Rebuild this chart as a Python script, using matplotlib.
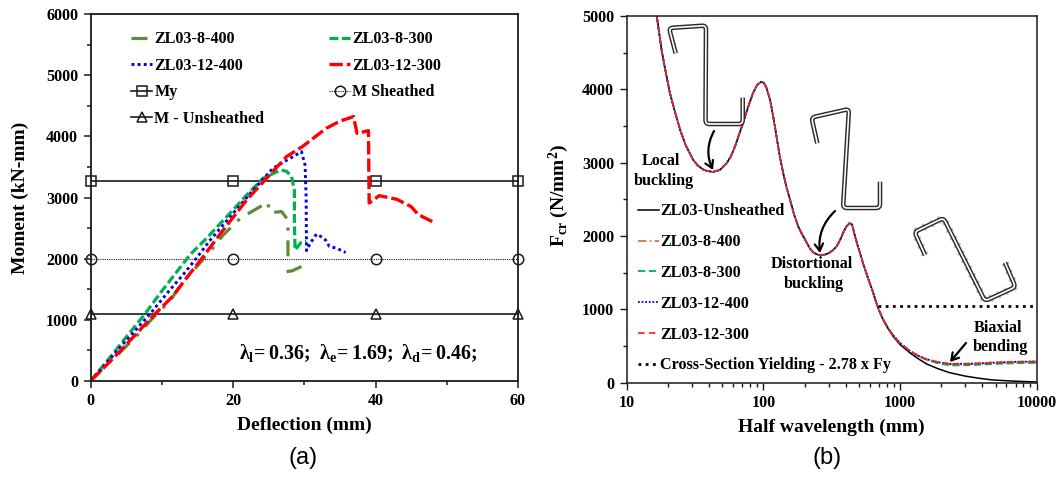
import matplotlib
matplotlib.use("Agg")
import matplotlib.pyplot as plt
from matplotlib.patches import FancyArrowPatch, PathPatch
from matplotlib.path import Path
from matplotlib.ticker import MultipleLocator, FixedLocator, NullFormatter, LogLocator

plt.rcParams['font.family'] = ['Liberation Serif', 'DejaVu Sans']
plt.rcParams['font.weight'] = 'bold'
plt.rcParams['mathtext.fontset'] = 'custom'
plt.rcParams['mathtext.bf'] = 'Liberation Serif:bold'
plt.rcParams['mathtext.rm'] = 'Liberation Serif:bold'
plt.rcParams['mathtext.it'] = 'Liberation Serif:bold'

# ---------- panel (a) data ----------
x_8_400 = [0, 2, 4, 6.5, 8.5, 11, 13, 15.5, 17, 18.6, 21, 23.8, 24.8, 25.2, 26.8, 27.7, 27.7, 27.7, 27.6, 27.5, 28.3, 29.6]
y_8_400 = [0, 230, 450, 740, 1000, 1290, 1620, 1950, 2150, 2385, 2660, 2850, 2930, 2750, 2770, 2630, 2360, 2000, float('nan'), 1785, 1800, 1870]
x_8_300 = [0, 2, 4, 6, 7.6, 10, 12, 14, 16, 19.1, 21.9, 24.2, 26.1, 26.8, 27.5, 28.2, 28.6, 28.6, 28.7, 29.5, 30.3]
y_8_300 = [0, 280, 570, 860, 1090, 1470, 1770, 2070, 2300, 2685, 3040, 3315, 3420, 3445, 3430, 3340, 3120, 2600, 2140, 2260, 2280]
x_12_400 = [0, 2, 4, 6, 8.3, 11, 13, 14.8, 16.75, 20, 22.8, 25.6, 29.6, 30.1, 30.25, 30.3, 30.6, 31, 31.7, 32.5, 33, 33.5, 34.5, 35.8]
y_12_400 = [0, 260, 530, 790, 1090, 1470, 1740, 2000, 2300, 2740, 3120, 3480, 3750, 3530, 3000, 2130, 2200, 2280, 2400, 2350, 2300, 2200, 2170, 2100]
x_12_300 = [0, 2, 4, 6.5, 9, 11.5, 13.5, 15.6, 17.9, 21.9, 24.7, 27.5, 29.8, 33.1, 35, 36.9, 37.4, 39, 39.1, 39.7, 40.5, 43, 45, 46, 48.4]
y_12_300 = [0, 230, 470, 780, 1090, 1380, 1690, 2000, 2360, 2960, 3315, 3670, 3840, 4135, 4250, 4325, 4050, 4095, 2910, 2960, 3030, 2970, 2850, 2720, 2580]
x_ref = [0, 20, 40, 60]
my_vals = [3270, 3270, 3270, 3270]
sheathed_vals = [2000, 2000, 2000, 2000]
unsheathed_vals = [1090, 1090, 1090, 1090]

# ---------- panel (b) data ----------
hw = [16.6, 17.3, 18, 19, 20.7, 22.5, 24.6, 27, 30.6, 33, 36, 39, 42.9, 48, 54, 58, 62, 66, 71, 77, 84, 90, 96, 100, 105, 112,
      117, 122, 132, 140, 148, 157, 168, 180, 190, 202, 219, 232, 250, 276, 300, 322, 344, 365, 385, 405, 427, 445, 468, 490,
      515, 540, 570, 600, 630, 660, 692, 735,
      780, 835, 891, 1000, 1175, 1350, 1567, 1900, 2317, 3000, 3800, 4786, 7000, 10000]
shared = [5000, 4760, 4537, 4300, 3950, 3700, 3447, 3240, 3040, 2965, 2910, 2885, 2875, 2900, 2995, 3090, 3220, 3370, 3540, 3750, 3950, 4060, 4100, 4095, 4030, 3855,
          3670, 3470, 3080, 2850, 2660, 2490, 2290, 2130, 2040, 1950, 1830, 1775, 1745, 1740, 1765, 1805, 1860, 1950, 2050, 2130, 2175, 2160, 2000, 1870,
          1740, 1610, 1480, 1360, 1250, 1130, 1015, 900]
un_tail = [800, 710, 630, 520, 410, 330, 255, 190, 136, 90, 60, 37, 20, 10]
s8_400_tail = [810, 720, 645, 540, 435, 368, 315, 275, 250, 250, 258, 268, 278, 283]
s8_300_tail = [810, 720, 645, 540, 435, 365, 312, 265, 235, 238, 245, 255, 265, 270]
s12_400_tail = [810, 720, 645, 540, 435, 370, 320, 280, 258, 258, 265, 275, 285, 290]
s12_300_tail = [810, 720, 645, 540, 435, 370, 320, 280, 258, 258, 265, 275, 285, 290]
yield_x = [690, 10000]
yield_y = [1045, 1045]

# ---------- section outlines in figure pixels (illustrations) ----------
sec1 = [(675.7, 53.3), (669, 28), (706, 25.5), (705.5, 124), (742.7, 124), (742.7, 97.7)]
sec2 = [(817.3, 143.3), (811.5, 117.5), (849, 109), (843, 208), (880, 208), (880, 181.7)]
sec3 = [(925, 255), (914.5, 232), (943.5, 218), (985, 301), (1015.5, 287), (1005, 262.7)]

W, H = 1060, 478
fig = plt.figure(figsize=(W / 100, H / 100), dpi=100)

def box(l, t, r, b):
    return [l / W, 1 - b / H, (r - l) / W, (b - t) / H]

FS = 11.6
LFS = 14
ink = '#1a1a1a'

# ===== (a) =====
ax = fig.add_axes(box(90.7, 14.3, 518, 380.7))
ax.set_xlim(0, 60)
ax.set_ylim(0, 6000)
ax.plot(x_ref, my_vals, color=ink, lw=1.2, marker='s', ms=7.5, mfc='none', mew=1.1, clip_on=False, label='My', zorder=2)
ax.plot(x_ref, sheathed_vals, color=ink, lw=0.8, ls=(0, (1, 1)), marker='o', ms=7.5, mfc='none', mew=1.1, clip_on=False, label='M Sheathed', zorder=2)
ax.plot(x_ref, unsheathed_vals, color=ink, lw=1.2, marker='^', ms=7.5, mfc='none', mew=1.1, clip_on=False, label='M - Unsheathed', zorder=2)
ax.plot(x_8_400, y_8_400, color='#5E8B3A', lw=2.3, ls=(0, (5, 3, 1, 3)), label='ZL03-8-400')
ax.plot(x_8_300, y_8_300, color='#00B050', lw=2.3, ls=(0, (2.8, 1.1)), label='ZL03-8-300')
ax.plot(x_12_400, y_12_400, color='#0000E6', lw=2.1, ls=(0, (1, 1.1)), label='ZL03-12-400')
ax.plot(x_12_300, y_12_300, color='#FF0000', lw=2.4, ls=(0, (4, 1.2)), label='ZL03-12-300')
h, lab = ax.get_legend_handles_labels()
d = dict(zip(lab, h))
order = ['ZL03-8-400', 'ZL03-12-400', 'My', 'M - Unsheathed', 'ZL03-8-300', 'ZL03-12-300', 'M Sheathed']
ax.legend([d[k] for k in order], order, ncol=2, frameon=False, fontsize=FS,
          loc='upper left', bbox_to_anchor=(0.065, 0.989), handlelength=1.3, handletextpad=0.13,
          labelspacing=0.65, columnspacing=4.03, borderpad=0.3)
ax.xaxis.set_major_locator(MultipleLocator(20))
ax.xaxis.set_minor_locator(MultipleLocator(10))
ax.yaxis.set_major_locator(MultipleLocator(1000))
ax.yaxis.set_minor_locator(MultipleLocator(500))
ax.tick_params(which='major', direction='out', length=5, width=1.1, labelsize=FS, color=ink, pad=4)
ax.tick_params(which='minor', direction='out', length=3, width=1.1, color=ink)
ax.set_xlabel('Deflection (mm)', fontsize=LFS, fontweight='bold', labelpad=5.5)
ax.set_ylabel('Moment (kN-mm)', fontsize=LFS, fontweight='bold')
ax.yaxis.set_label_coords((29 - 90.7) / 427.3, 0.5)
ax.text(0.348, 0.076, r'$\mathbf{λ_l\!=0.36;\ λ_e\!=1.69;\ λ_d\!=0.46;}$', transform=ax.transAxes,
        fontsize=14.4, fontweight='bold', ha='left', va='center')
for s in ax.spines.values():
    s.set_linewidth(1.3)
    s.set_color(ink)

# ===== (b) =====
bx = fig.add_axes(box(626.7, 16, 1036.7, 382.7))
bx.set_xscale('log')
bx.set_xlim(10, 10000)
bx.set_ylim(0, 5000)
bx.plot(hw, shared + un_tail, color='black', lw=1.1, label='ZL03-Unsheathed')
bx.plot(hw, shared + s8_400_tail, color='#D2691E', lw=1.2, ls=(0, (5, 2, 1, 2)), label='ZL03-8-400')
bx.plot(hw, shared + s8_300_tail, color='#00B050', lw=1.3, ls=(0, (4, 2)), label='ZL03-8-300')
bx.plot(hw, shared + s12_400_tail, color='#0000E6', lw=1.3, ls=(0, (1, 1)), label='ZL03-12-400')
bx.plot(hw, shared + s12_300_tail, color='#FF1A1A', lw=1.2, ls=(0, (4, 2.5)), label='ZL03-12-300')
bx.plot(yield_x, yield_y, color='black', lw=2, ls=(0, (1, 1.6)), label='Cross-Section Yielding - 2.78 x Fy')
bx.legend(frameon=False, fontsize=FS, loc='upper left', bbox_to_anchor=(-0.002, 0.522),
          handlelength=1.3, handletextpad=0.07, labelspacing=0.92, borderpad=0.25)
bx.xaxis.set_major_locator(FixedLocator([10, 100, 1000, 10000]))
bx.xaxis.set_minor_locator(LogLocator(base=10, subs=range(2, 10), numticks=6))
bx.xaxis.set_minor_formatter(NullFormatter())
bx.set_xticklabels(['10', '100', '1000', '10000'])
bx.yaxis.set_major_locator(MultipleLocator(1000))
bx.yaxis.set_minor_locator(MultipleLocator(500))
bx.tick_params(which='major', direction='out', length=5, width=1.0, labelsize=FS, color=ink, pad=4)
bx.tick_params(which='minor', direction='out', length=3, width=1.0, color=ink)
bx.set_xlabel('Half wavelength (mm)', fontsize=LFS, fontweight='bold', labelpad=5.5)
bx.set_ylabel(r'F$_{\mathbf{cr}}$ (N/mm$^{\mathbf{2}}$)', fontsize=LFS, fontweight='bold')
bx.yaxis.set_label_coords((571 - 626.7) / 410, (382.7 - 195) / 366.7)
for s in bx.spines.values():
    s.set_linewidth(1.1)
    s.set_color(ink)

# annotations placed in pixels
def ftxt(px, py, s, **kw):
    fig.text(px / W, 1 - py / H, s, ha='center', va='center', **kw)

ftxt(661, 161, 'Local', fontsize=FS)
ftxt(664, 181, 'buckling', fontsize=FS)
ftxt(811.5, 264, 'Distortional', fontsize=FS)
ftxt(813.5, 284, 'buckling', fontsize=FS)
ftxt(998, 328, 'Biaxial', fontsize=FS)
ftxt(1000, 347, 'bending', fontsize=FS)
ftxt(303, 458, '(a)', fontsize=17, fontweight='normal', family='Liberation Sans')
ftxt(827, 458, '(b)', fontsize=17, fontweight='normal', family='Liberation Sans')

def rounded(pts, r=4.0):
    verts = [pts[0]]
    codes = [Path.MOVETO]
    for i in range(1, len(pts) - 1):
        p, q, n = pts[i - 1], pts[i], pts[i + 1]
        d1 = ((q[0] - p[0]) ** 2 + (q[1] - p[1]) ** 2) ** 0.5
        d2 = ((n[0] - q[0]) ** 2 + (n[1] - q[1]) ** 2) ** 0.5
        a = (q[0] + (p[0] - q[0]) * r / d1, q[1] + (p[1] - q[1]) * r / d1)
        b = (q[0] + (n[0] - q[0]) * r / d2, q[1] + (n[1] - q[1]) * r / d2)
        verts += [a, q, b]
        codes += [Path.LINETO, Path.CURVE3, Path.CURVE3]
    verts.append(pts[-1])
    codes.append(Path.LINETO)
    return Path([(x / W, 1 - y / H) for x, y in verts], codes)

def sect(pts, speckle=False):
    path = rounded(pts)
    if speckle:
        fig.add_artist(PathPatch(path, fc='none', ec='#c4c4c4', lw=5.5, ls=(0, (0.3, 0.8)), transform=fig.transFigure))
    fig.add_artist(PathPatch(path, fc='none', ec='#2b2b2b', lw=3.3, capstyle='butt', transform=fig.transFigure))
    fig.add_artist(PathPatch(path, fc='none', ec='white', lw=1.2, capstyle='butt', transform=fig.transFigure))

sect(sec1)
sect(sec2)
sect(sec3, True)

def arrow(p0, p1, rad):
    fig.add_artist(FancyArrowPatch((p0[0] / W, 1 - p0[1] / H), (p1[0] / W, 1 - p1[1] / H),
                                   transform=fig.transFigure, arrowstyle='->,head_length=5,head_width=3',
                                   connectionstyle=f'arc3,rad={rad}', color='black', lw=1.6, shrinkA=0, shrinkB=0))

arrow((714, 131), (713, 170), 0.25)
arrow((835, 211), (820, 253), 0.25)
arrow((966, 343), (950, 362), 0)

fig.savefig('out.png', dpi=100)
